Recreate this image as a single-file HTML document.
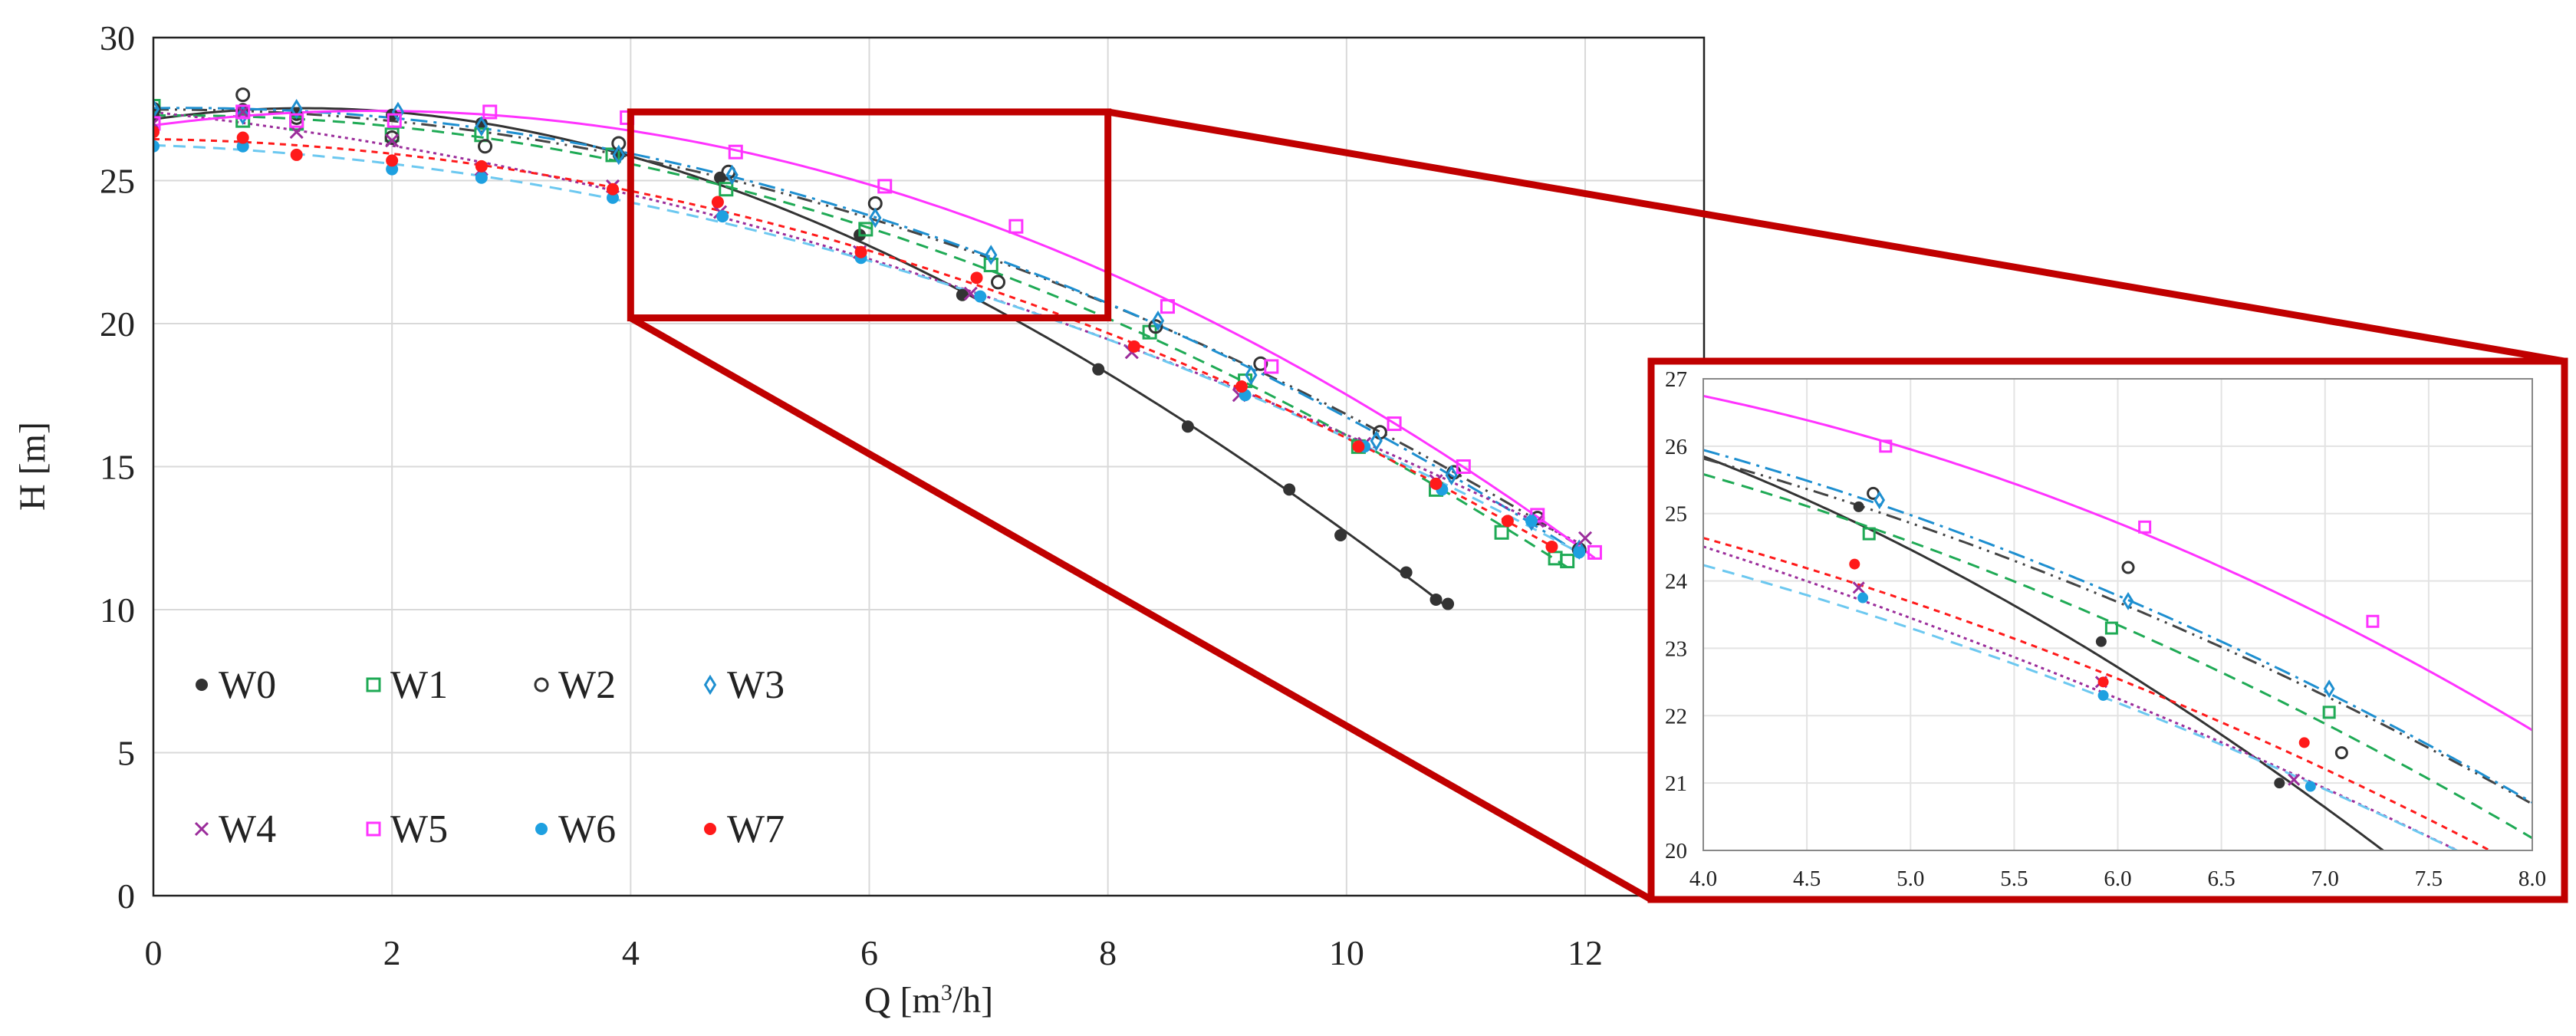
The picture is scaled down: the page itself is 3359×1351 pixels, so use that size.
<!DOCTYPE html>
<html><head><meta charset="utf-8"><style>
html,body{margin:0;padding:0;background:#fff;overflow:hidden;width:3359px;height:1351px;}
svg{display:block;font-family:"Liberation Serif",serif;}
</style></head><body>
<svg id="chart" width="3359" height="1351" viewBox="0 0 3359 1351" xmlns="http://www.w3.org/2000/svg">
<defs>
<clipPath id="clipMain"><rect x="200" y="49" width="2022" height="1119"/></clipPath>
<clipPath id="clipInset"><rect x="2221" y="494" width="1081" height="615"/></clipPath>
</defs>
<rect width="3359" height="1351" fill="#fff"/>
<g id="main"></g>
<g id="zoomdeco"></g>
<g id="inset"></g>
<g id="legend"></g>
</svg>
<script>
const seriesNames = ["W0","W1","W2","W3","W4","W5","W6","W7"];
const w0Q = [0,0.75,1.2,2.0,2.75,3.9,4.75,5.92,6.78,7.92,8.67,9.52,9.95,10.5,10.75,10.85];
const w0H = [27.3,27.5,27.3,27.3,27.0,25.9,25.1,23.1,21.0,18.4,16.4,14.2,12.6,11.3,10.35,10.2];
const w1Q = [0,0.75,1.2,2.0,2.75,3.85,4.8,5.97,7.02,8.35,9.15,10.1,10.75,11.3,11.75,11.85];
const w1H = [27.6,27.1,27.0,26.6,26.6,25.9,24.7,23.3,22.05,19.7,18.0,15.7,14.2,12.7,11.8,11.7];
const w2Q = [0,0.75,1.2,2.0,2.78,3.9,4.82,6.05,7.08,8.4,9.28,10.28,10.9,11.6,11.95];
const w2H = [27.5,28.0,27.2,26.5,26.2,26.3,25.3,24.2,21.45,19.9,18.6,16.2,14.8,13.2,12.1];
const w3Q = [0,0.75,1.2,2.05,2.75,3.9,4.85,6.05,7.02,8.42,9.2,10.25,10.88,11.55,11.95];
const w3H = [27.5,27.3,27.5,27.4,26.9,25.9,25.2,23.7,22.4,20.1,18.2,15.9,14.7,13.1,12.1];
const w4Q = [0,0.75,1.2,2.0,2.75,3.85,4.75,5.92,6.85,8.2,9.1,10.15,10.75,11.6,12.0];
const w4H = [27.0,27.4,26.7,26.4,25.4,24.8,23.9,22.5,21.05,19.0,17.5,15.8,14.5,13.1,12.5];
const w5Q = [0,0.75,1.2,2.02,2.82,3.97,4.88,6.13,7.23,8.5,9.37,10.4,10.98,11.6,12.08];
const w5H = [27.0,27.4,27.1,27.1,27.4,27.2,26.0,24.8,23.4,20.6,18.5,16.5,15.0,13.3,12.0];
const w6Q = [0,0.75,2.0,2.75,3.85,4.77,5.93,6.93,9.15,10.15,10.8,11.55,11.95];
const w6H = [26.2,26.2,25.4,25.1,24.4,23.75,22.3,20.95,17.5,15.7,14.2,13.1,12.0];
const w7Q = [0,0.75,1.2,2.0,2.75,3.85,4.73,5.93,6.9,8.22,9.12,10.1,10.75,11.35,11.72];
const w7H = [26.7,26.5,25.9,25.7,25.5,24.7,24.25,22.5,21.6,19.2,17.8,15.7,14.4,13.1,12.2];
const mainXTicks = [0,2,4,6,8,10,12];
const mainYTicks = [0,5,10,15,20,25,30];
const insetXTicks = ["4.0","4.5","5.0","5.5","6.0","6.5","7.0","7.5","8.0"];
const insetYTicks = [20,21,22,23,24,25,26,27];

const allQ=[w0Q,w1Q,w2Q,w3Q,w4Q,w5Q,w6Q,w7Q], allH=[w0H,w1H,w2H,w3H,w4H,w5H,w6H,w7H];
const style=[
 {m:"dot",mc:"#333",lc:"#333",dash:"",deg:3},
 {m:"square",mc:"#1faa55",lc:"#1faa55",dash:"16 10",deg:2},
 {m:"circle",mc:"#333",lc:"#444",dash:"20 8 3 8 3 8",deg:2},
 {m:"diamond",mc:"#1e8fd0",lc:"#1e8fd0",dash:"22 8 4 8",deg:2},
 {m:"x",mc:"#9b2d9b",lc:"#9b2d9b",dash:"4 5",deg:2},
 {m:"square",mc:"#ff33ff",lc:"#ff33ff",dash:"",deg:2},
 {m:"dot",mc:"#1ea0e0",lc:"#6cc8f0",dash:"16 10",deg:2},
 {m:"dot",mc:"#ff1a1a",lc:"#ff1a1a",dash:"8 7",deg:2}
];
const NS="http://www.w3.org/2000/svg";
function mk(tag,attrs,parent){const e=document.createElementNS(NS,tag);for(const k in attrs)e.setAttribute(k,attrs[k]);parent.appendChild(e);return e;}
function polyfit(xs,ys,d){const n=d+1;const A=[];for(let i=0;i<n;i++){A.push(new Array(n+1).fill(0));}
 for(let k=0;k<xs.length;k++){for(let i=0;i<n;i++){for(let j=0;j<n;j++)A[i][j]+=Math.pow(xs[k],i+j);A[i][n]+=ys[k]*Math.pow(xs[k],i);}}
 for(let i=0;i<n;i++){let p=i;for(let r=i+1;r<n;r++)if(Math.abs(A[r][i])>Math.abs(A[p][i]))p=r;[A[i],A[p]]=[A[p],A[i]];
  for(let r=0;r<n;r++){if(r===i)continue;const f=A[r][i]/A[i][i];for(let c=i;c<=n;c++)A[r][c]-=f*A[i][c];}}
 return A.map((row,i)=>row[n]/row[i]);}
function pv(c,x){let s=0;for(let i=0;i<c.length;i++)s+=c[i]*Math.pow(x,i);return s;}
const fits=allQ.map((q,i)=>polyfit(q,allH[i],style[i].deg));

function marker(g,type,col,x,y,r){
 let e;
 if(type==="dot")e=mk("circle",{cx:x,cy:y,r:r,fill:col},g);
 else if(type==="circle")e=mk("circle",{cx:x,cy:y,r:r,fill:"none",stroke:col,"stroke-width":3},g);
 else if(type==="square")e=mk("rect",{x:x-r,y:y-r,width:2*r,height:2*r,fill:"none",stroke:col,"stroke-width":3},g);
 else if(type==="diamond")e=mk("polygon",{points:`${x},${y-r*1.3} ${x+r*0.8},${y} ${x},${y+r*1.3} ${x-r*0.8},${y}`,fill:"none",stroke:col,"stroke-width":3},g);
 else e=mk("path",{d:`M${x-r} ${y-r}L${x+r} ${y+r}M${x+r} ${y-r}L${x-r} ${y+r}`,stroke:col,"stroke-width":3},g);
 return e;}

function panel(g,xs,ys,clip,x0,x1,r){
 const cg=mk("g",{"clip-path":`url(#${clip})`},g);
 for(let i=0;i<8;i++){
  const c=fits[i],qmax=Math.max(...allQ[i]);let d="";
  const a=Math.max(0,x0),b=Math.min(qmax,x1);
  for(let k=0;k<=200;k++){const q=a+(b-a)*k/200;d+=(k?"L":"M")+xs(q).toFixed(1)+" "+ys(pv(c,q)).toFixed(1);}
  const p=mk("path",{d:d,fill:"none",stroke:style[i].lc,"stroke-width":3,"stroke-dasharray":style[i].dash},cg);
  
  
 }
 for(let i=0;i<8;i++){
  allQ[i].forEach((q,k)=>{const e=marker(cg,style[i].m,style[i].mc,xs(q),ys(allH[i][k]),r);
   
   });
 }
}

// main plot
const M={l:200,r:2222,t:49,b:1168};
const mx=q=>M.l+q*(2067-200)/12, my=h=>M.b-h*(M.b-M.t)/30;
const mg=document.getElementById("main");
for(const v of [0,2,4,6,8,10,12]){mk("line",{x1:mx(v),x2:mx(v),y1:M.t,y2:M.b,stroke:"#d9d9d9","stroke-width":2},mg);}
for(const v of mainYTicks){mk("line",{x1:M.l,x2:M.r,y1:my(v),y2:my(v),stroke:"#d9d9d9","stroke-width":2},mg);}
panel(mg,mx,my,"clipMain",0,13,8);
mk("rect",{x:M.l,y:M.t,width:M.r-M.l,height:M.b-M.t,fill:"none",stroke:"#222","stroke-width":2.5},mg);
mainXTicks.forEach(v=>{const t=mk("text",{x:mx(v),y:1258,"font-size":46,"text-anchor":"middle",fill:"#222"},mg);t.textContent=v;
 });
mainYTicks.forEach(v=>{const t=mk("text",{x:176,y:my(v)+16,"font-size":46,"text-anchor":"end",fill:"#222"},mg);t.textContent=v;
 });
let xt=mk("text",{x:1211,y:1320,"font-size":48,"text-anchor":"middle",fill:"#222"},mg);
xt.innerHTML='Q [m<tspan baseline-shift="super" font-size="30">3</tspan>/h]';

let yt=mk("text",{x:0,y:0,"font-size":48,"text-anchor":"middle",fill:"#222",transform:"translate(58,608) rotate(-90)"},mg);
yt.textContent="H [m]";

// inset
const I={l:2221,r:3302,t:494,b:1109};
const ix=q=>I.l+(q-4)*(I.r-I.l)/4, iy=h=>I.b-(h-20)*(I.b-I.t)/7;
const ig=document.getElementById("inset");
mk("rect",{x:2153,y:471,width:1191,height:702,fill:"#fff"},ig);
insetXTicks.forEach(s=>{mk("line",{x1:ix(+s),x2:ix(+s),y1:I.t,y2:I.b,stroke:"#e3e3e3","stroke-width":2},ig);});
insetYTicks.forEach(v=>{mk("line",{x1:I.l,x2:I.r,y1:iy(v),y2:iy(v),stroke:"#e3e3e3","stroke-width":2},ig);});
panel(ig,ix,iy,"clipInset",4,8,7);
mk("rect",{x:I.l,y:I.t,width:I.r-I.l,height:I.b-I.t,fill:"none",stroke:"#888","stroke-width":2},ig);
insetXTicks.forEach(s=>{const t=mk("text",{x:ix(+s),y:1155,"font-size":29,"text-anchor":"middle",fill:"#222"},ig);t.textContent=s;
 });
insetYTicks.forEach(v=>{const t=mk("text",{x:2200,y:iy(v)+10,"font-size":29,"text-anchor":"end",fill:"#222"},ig);t.textContent=v;
 });
mk("rect",{x:2153,y:471,width:1191,height:702,fill:"none",stroke:"#c00000","stroke-width":9},ig);

// zoom rectangle + connectors
const zg=document.getElementById("zoomdeco");
mk("line",{x1:mx(8),y1:my(27.4),x2:3344,y2:471,stroke:"#c00000","stroke-width":9},zg);
mk("line",{x1:mx(4),y1:my(20.2),x2:2153,y2:1173,stroke:"#c00000","stroke-width":9},zg);
mk("rect",{x:mx(4),y:my(27.4),width:mx(8)-mx(4),height:my(20.2)-my(27.4),fill:"none",stroke:"#c00000","stroke-width":9},zg);

// legend
const lg=document.getElementById("legend");
const lx=[263,487,706,926], ly=[893,1081];
seriesNames.forEach((n,i)=>{const x=lx[i%4],y=ly[Math.floor(i/4)];
 const gg=mk("g",{},lg);
 marker(gg,style[i].m,style[i].mc,x,y,8);
 const t=mk("text",{x:x+22,y:y+17,"font-size":52,fill:"#222"},gg);t.textContent=n;});
</script>
</body></html>
